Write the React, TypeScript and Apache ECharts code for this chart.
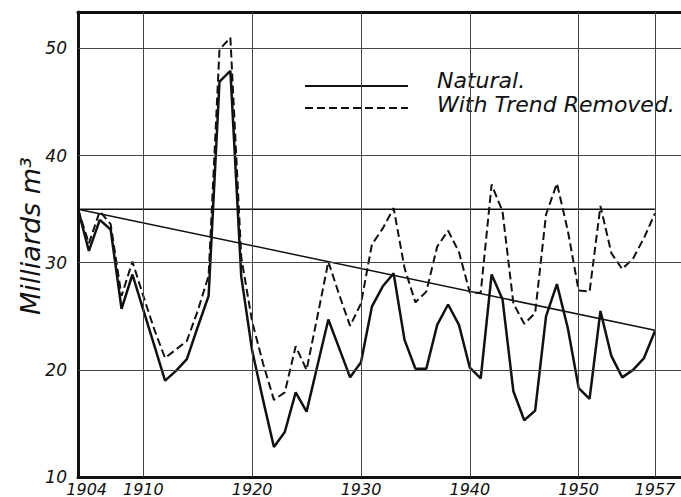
import React, { useEffect, useRef } from "react";
import * as echarts from "echarts";

// Annual runoff, 1904–1957, milliards of m³
const startYear = 1904;

const natural = [
  35.0, 31.1, 34.0, 33.1, 25.7, 28.9, 25.6, 22.3, 19.0, 19.9,
  21.0, 24.0, 26.9, 46.9, 47.9, 28.7, 21.8, 17.2, 12.8, 14.2,
  17.9, 16.1, 20.4, 24.7, 22.0, 19.3, 20.7, 25.9, 27.8, 29.0,
  22.8, 20.1, 20.1, 24.2, 26.1, 24.2, 20.2, 19.2, 28.9, 26.6,
  18.0, 15.3, 16.2, 25.0, 28.0, 23.9, 18.3, 17.3, 25.5, 21.3,
  19.3, 20.0, 21.1, 23.6,
];

const trendRemoved = [
  35.0, 31.8, 34.8, 33.6, 26.9, 30.1, 26.9, 23.8, 21.1, 21.9,
  22.7, 25.5, 28.8, 49.9, 51.0, 30.5, 24.5, 20.6, 17.2, 17.9,
  22.2, 20.0, 25.0, 30.1, 27.0, 24.1, 26.2, 31.7, 33.2, 35.1,
  29.5, 26.3, 27.3, 31.5, 33.0, 31.0, 27.2, 27.2, 37.3, 34.8,
  26.2, 24.3, 25.3, 34.5, 37.4, 33.0, 27.4, 27.3, 35.3, 30.9,
  29.4, 30.4, 32.3, 34.6,
];

// Linear trend and the mean level (end points)
const trendLine = [
  [1904, 35.0],
  [1957, 23.7],
];
const meanLine = [
  [1904, 35.0],
  [1957, 35.0],
];

const xTickYears = [1904, 1910, 1920, 1930, 1940, 1950, 1957];
const xGridYears = [1910, 1920, 1930, 1940, 1950, 1957];
const yGridValues = [20, 30, 40, 50];

const INK = "#111";
const FONT = "DejaVu Sans";

export default function App() {
  const ref = useRef<HTMLDivElement>(null);

  useEffect(() => {
    if (!ref.current) return;
    const chart = echarts.init(ref.current, undefined, { renderer: "svg" });

    const toPairs = (arr: number[]) => arr.map((v, i) => [startYear + i, v]);

    chart.setOption({
      animation: false,
      backgroundColor: "#fff",
      grid: { left: 78, right: 0, top: 12, bottom: 19 },
      xAxis: [
        {
          type: "value",
          min: 1904,
          max: 1959.4,
          position: "bottom",
          axisLine: { show: true, lineStyle: { color: INK, width: 3 } },
          axisTick: { show: false },
          splitLine: { show: false },
          axisLabel: {
            customValues: xTickYears,
            color: INK,
            fontFamily: FONT,
            fontStyle: "italic",
            fontSize: 16,
            margin: 4,
            // the first year label sits just right of the corner
            formatter: (v: number) =>
              v === startYear ? `{first|${v}}` : String(v),
            rich: {
              first: {
                color: INK,
                fontFamily: FONT,
                fontStyle: "italic",
                fontSize: 16,
                width: 58,
                align: "right",
              },
            },
          },
        },
        {
          type: "value",
          min: 1904,
          max: 1959.4,
          position: "top",
          axisLine: { show: true, lineStyle: { color: INK, width: 3 } },
          axisTick: { show: false },
          axisLabel: { show: false },
          splitLine: { show: false },
        },
      ],
      yAxis: {
        type: "value",
        min: 10,
        max: 53.4,
        interval: 10,
        axisLine: { show: true, lineStyle: { color: INK, width: 3 } },
        axisTick: { show: false },
        splitLine: { show: false },
        axisLabel: {
          color: INK,
          fontFamily: FONT,
          fontStyle: "italic",
          fontSize: 17,
          margin: 11,
          formatter: (v: number) => (v % 10 === 0 ? String(v) : ""),
        },
      },
      graphic: [
        {
          type: "text",
          x: 30,
          y: 236,
          rotation: Math.PI / 2,
          style: {
            text: "Milliards m³",
            fill: INK,
            font: `italic 27px "${FONT}"`,
            align: "center",
            verticalAlign: "middle",
          },
        },
        {
          type: "line",
          shape: { x1: 305, y1: 86, x2: 408, y2: 86 },
          style: { stroke: INK, lineWidth: 2 },
        },
        {
          type: "line",
          shape: { x1: 305, y1: 108, x2: 408, y2: 108 },
          style: { stroke: INK, lineWidth: 2, lineDash: [8, 4] },
        },
        {
          type: "text",
          x: 437,
          y: 80,
          style: {
            text: "Natural.",
            fill: INK,
            font: `italic 22px "${FONT}"`,
            verticalAlign: "middle",
          },
        },
        {
          type: "text",
          x: 437,
          y: 104,
          style: {
            text: "With Trend Removed.",
            fill: INK,
            font: `italic 22px "${FONT}"`,
            verticalAlign: "middle",
          },
        },
      ],
      series: [
        {
          name: "Mean",
          type: "line",
          data: meanLine,
          symbol: "none",
          z: 1,
          lineStyle: { color: INK, width: 1.5 },
          markLine: {
            silent: true,
            symbol: ["none", "none"],
            label: { show: false },
            lineStyle: { color: "#444", width: 1, type: "solid" },
            data: [
              ...xGridYears.map((x) => ({ xAxis: x })),
              ...yGridValues.map((y) => ({ yAxis: y })),
            ],
          },
        },
        {
          name: "Trend",
          type: "line",
          data: trendLine,
          symbol: "none",
          z: 2,
          lineStyle: { color: INK, width: 1.5 },
        },
        {
          name: "With Trend Removed.",
          type: "line",
          data: toPairs(trendRemoved),
          symbol: "none",
          z: 3,
          lineStyle: { color: INK, width: 2, type: [8, 4] },
        },
        {
          name: "Natural.",
          type: "line",
          data: toPairs(natural),
          symbol: "none",
          z: 4,
          lineStyle: { color: INK, width: 2.5 },
        },
      ],
    });

    return () => chart.dispose();
  }, []);

  return (
    <div
      ref={ref}
      style={{ position: "fixed", left: 0, top: 0, width: 681, height: 497 }}
    />
  );
}
